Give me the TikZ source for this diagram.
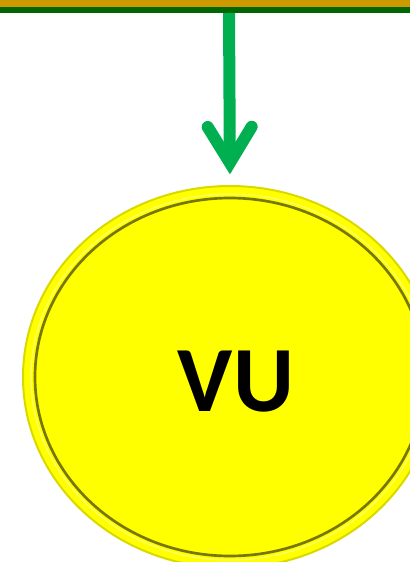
\documentclass[tikz,border=0pt]{standalone}
\usepackage{fontspec}
\setmainfont{Carlito}
\usepackage{tikz}
\usetikzlibrary{arrows.meta,shapes.geometric}
\definecolor{barg}{HTML}{CC9900}
\definecolor{bard}{HTML}{006600}
\definecolor{flowc}{HTML}{00B050}
\definecolor{vuyel}{HTML}{FFFF00}
\definecolor{vurim}{HTML}{D9D900}
\definecolor{vudark}{HTML}{4A4A00}

\begin{document}
\begin{tikzpicture}[x=0.75pt,y=-0.75pt,
    flow/.style={flowc,line width=9pt,-{Straight Barb[length=27pt,width=33pt,line cap=round]}},
    vunode/.style={ellipse,fill=vuyel,draw=vurim,line width=1.5pt,inner sep=0pt,
      minimum width=414*0.75pt,minimum height=382*0.75pt}]
        \useasboundingbox (0,0) rectangle (410,562);
        % band at the top, cut by the page
        \node[rectangle,fill=bard,draw=none,inner sep=0pt,minimum width=460*0.75pt,minimum height=30*0.75pt,anchor=south] (bar) at (205,13) {};
        \fill[barg] (-20,-20) rectangle (430,7);
        \node[vunode] (vu) at (230,377) {};
        \draw[vudark,line width=2pt,opacity=0.75] (230,377) ellipse [x radius=195,y radius=179];
        \draw[vuyel!60!white,line width=1pt] (230,377) ellipse [x radius=199,y radius=183];
        \node[font=\fontsize{70}{84}\selectfont\bfseries] (vulabel) at (236,382) {VU};
        \coordinate (top) at (229,13);
        \draw[flow,shorten >=8pt] (top) -- (vu.north);
      \end{tikzpicture}
\end{document}
